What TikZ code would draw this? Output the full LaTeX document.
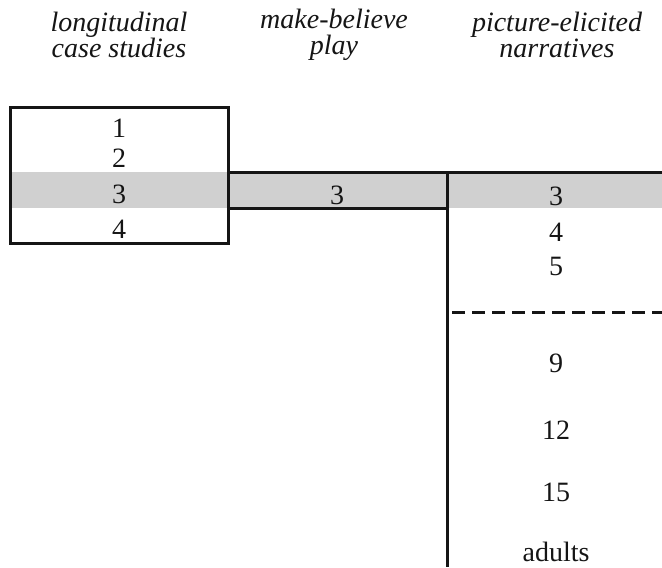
\documentclass[tikz,border=0pt]{standalone}
\usepackage{fontspec}
\setmainfont{Liberation Serif}
\usepackage{xcolor}
\usetikzlibrary{calc}
\definecolor{ink}{HTML}{151515}
\definecolor{band}{HTML}{D0D0D0}

\begin{document}
\begin{tikzpicture}[x=0.5pt, y=-0.5pt,
    rule/.style={line width=1.5pt, color=ink},
    age/.style={font=\color{ink}\fontsize{14}{16}\selectfont, inner sep=0pt},
    head/.style={font=\color{ink}\itshape\fontsize{14}{13}\selectfont, align=center, inner sep=0pt}]
  \clip (0,0) rectangle (662,567);
  \def\bandtop{172}
  \def\bandbot{208}
  \coordinate (boxNW) at (10,107);
  \coordinate (boxSE) at (228,243);
  \coordinate (split) at (447,\bandtop);

  % column heads
  \node[head] (hdCase) at (119,35) {longitudinal\\case studies};
  \node[head] (hdPlay) at (334,35) {make-believe\\play};
  \node[head] (hdNarr) at (557,35) {picture-elicited\\narratives};

  % the shared age band
  \fill[band] (10,\bandtop) rectangle (662,\bandbot);

  \draw[rule] (boxNW) rectangle (boxSE);
  \draw[rule] (boxSE |- split) -- (662,\bandtop);
  \draw[rule] (split) -- (split |- 0,\bandbot);
  \draw[rule] (boxSE |- 0,\bandbot) -- (split |- 0,\bandbot) -- (split |- 0,567);
  \draw[rule, dash pattern=on 6.5pt off 3.5pt] (452,312) -- (662,312);

  % ages
  \node[age] (cs1) at (119,128) {1};
  \node[age] (cs2) at (119,158) {2};
  \node[age] (cs3) at (119,194) {3};
  \node[age] (cs4) at (119,229) {4};
  \node[age] (mb3) at (337,195) {3};
  \foreach \a/\yy in {3/196,4/232,5/266,9/363,12/430,15/492,adults/552}
    \node[age] (pe-\a) at (556,\yy) {\a};
\end{tikzpicture}
\end{document}
